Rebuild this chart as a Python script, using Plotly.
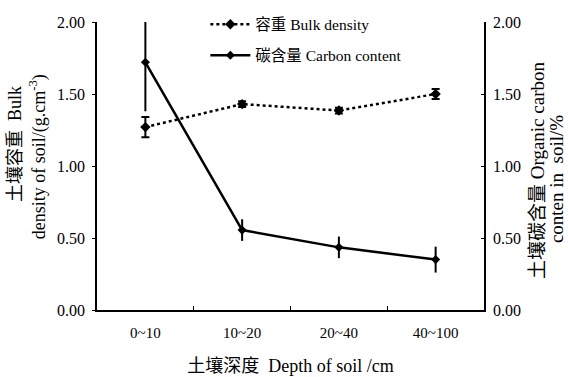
import plotly.graph_objects as go

depths = ["0~10", "10~20", "20~40", "40~100"]
bulk_density = [1.27, 1.43, 1.385, 1.50]
bulk_err = [0.07, 0.02, 0.02, 0.035]
carbon = [1.72, 0.555, 0.435, 0.35]
carbon_err_plus = [0.28, 0.075, 0.075, 0.09]
carbon_err_minus = [0.34, 0.075, 0.075, 0.09]
y_ticks = [0, 0.5, 1.0, 1.5, 2.0]
y_tick_text = ["0.00", "0.50", "1.00", "1.50", "2.00"]

SERIF = "Liberation Serif, Noto Sans CJK SC, serif"

fig = go.Figure()
fig.add_trace(go.Scatter(
    x=depths, y=bulk_density, name="容重 Bulk density", legendgroup="a",
    mode="lines+markers",
    line=dict(color="black", width=2.5, dash="dot"),
    marker=dict(symbol="diamond", size=8, color="black"),
    error_y=dict(type="data", array=bulk_err, color="black", thickness=2, width=4),
))
fig.add_trace(go.Scatter(
    x=depths, y=carbon, name="碳含量 Carbon content", legendgroup="b",
    mode="lines+markers", yaxis="y2",
    line=dict(color="black", width=2.5),
    marker=dict(symbol="diamond", size=7, color="black"),
    error_y=dict(type="data", symmetric=False, array=carbon_err_plus,
                 arrayminus=carbon_err_minus, color="black", thickness=2, width=0),
))

def title_note(text, x, y, size):
    return dict(text=text, xref="paper", yref="paper", x=x, y=y, textangle=-90,
                showarrow=False, font=dict(size=size, family=SERIF),
                xanchor="center", yanchor="middle")

fig.update_layout(
    width=568, height=377,
    margin=dict(l=97, r=84, t=22, b=67, autoexpand=False),
    paper_bgcolor="white", plot_bgcolor="white",
    font=dict(family=SERIF, color="black", size=14),
    showlegend=True,
    legend=dict(x=0.28, y=1.05, xanchor="left", yanchor="top",
                bgcolor="rgba(0,0,0,0)", tracegroupgap=8, itemwidth=40,
                font=dict(size=15.5, family=SERIF)),
    xaxis=dict(
        type="category", range=[-0.5, 3.5],
        showline=True, linecolor="black", linewidth=1.5,
        ticks="inside", tickson="boundaries", ticklen=4, tickcolor="black",
        showgrid=False, zeroline=False, automargin=False,
        tickfont=dict(size=15), ticklabelstandoff=8,
        title=dict(text="土壤深度  Depth of soil /cm", font=dict(size=18), standoff=20),
    ),
    yaxis=dict(
        range=[0, 2.0], tickvals=y_ticks, ticktext=y_tick_text,
        showline=True, linecolor="black", linewidth=1.5,
        ticks="outside", ticklen=3, tickcolor="black",
        showgrid=False, zeroline=False, automargin=False,
        tickfont=dict(size=16), ticklabelstandoff=4,
    ),
    yaxis2=dict(
        range=[0, 2.0], tickvals=y_ticks, ticktext=y_tick_text,
        overlaying="y", side="right",
        showline=True, linecolor="black", linewidth=1.5,
        ticks="inside", ticklen=3, tickcolor="black",
        showgrid=False, zeroline=False, automargin=False,
        tickfont=dict(size=16), ticklabelstandoff=4,
    ),
    annotations=[
        title_note("土壤容重  Bulk", -0.212, 0.576, 18),
        title_note("density of soil/(g.cm<sup>-3</sup>)", -0.152, 0.531, 18),
        title_note("土壤碳含量 Organic carbon", 1.137, 0.486, 19),
        title_note("conten in  soil/%", 1.189, 0.455, 19),
    ],
)

fig.write_html("out.html", config={"displayModeBar": False},
               post_script="document.body.style.margin='0';")
